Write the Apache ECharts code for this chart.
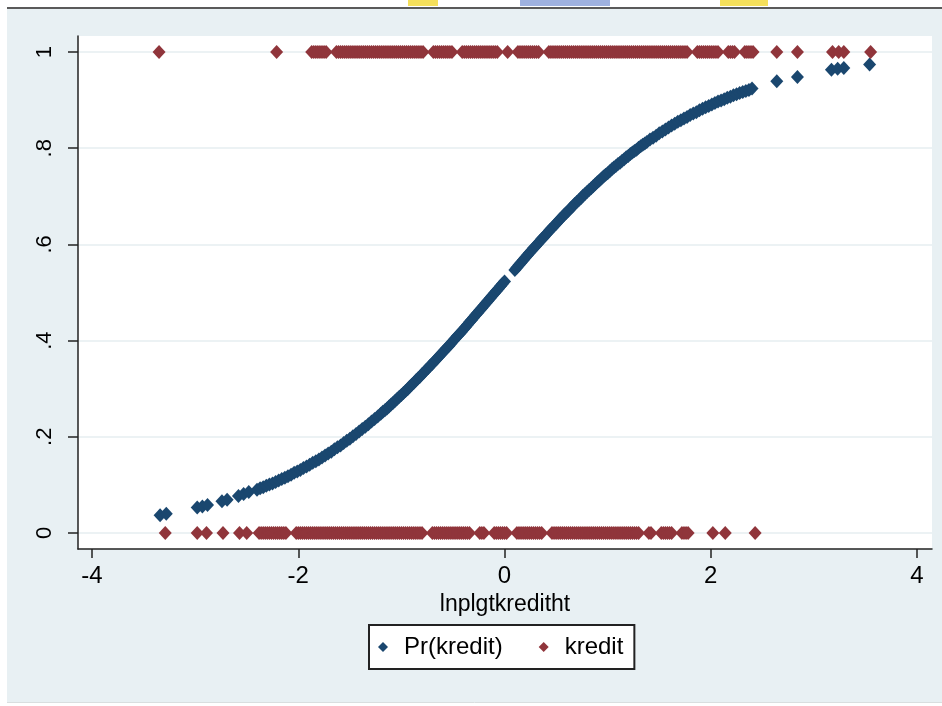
<!DOCTYPE html>
<html><head><meta charset="utf-8">
<script src="https://cdn.jsdelivr.net/npm/echarts@6/dist/echarts.min.js"></script>
<style>html,body{margin:0;padding:0;background:#fff}#c{width:942px;height:706px}</style>
</head><body><div id="c"></div>
<script>
const xTicks = [-4, -2, 0, 2, 4];
const yTicks = [0, 0.2, 0.4, 0.6, 0.8, 1];
const yTickLabels = ['0', '.2', '.4', '.6', '.8', '1'];
const xTitle = 'lnplgtkreditht';
const seriesNames = ['Pr(kredit)', 'kredit'];

// Pr(kredit): x positions and predicted probabilities
const prX = [-3.34, -3.28, -2.98, -2.93, -2.88, -2.74, -2.69, -2.58, -2.53, -2.48,
  -2.40, -2.37, -2.34, -2.31, -2.28, -2.25, -2.22, -2.19, -2.16, -2.13, -2.10, -2.07, -2.04, -2.01,
  -1.98, -1.95, -1.92, -1.89, -1.86, -1.83, -1.80, -1.77, -1.74, -1.71, -1.68, -1.65, -1.62, -1.59,
  -1.56, -1.53, -1.50, -1.47, -1.44, -1.41, -1.38, -1.35, -1.32, -1.29, -1.26, -1.23,
  -1.20, -1.18, -1.16, -1.14, -1.12, -1.10, -1.08, -1.06, -1.04, -1.02, -1.00, -0.98, -0.96, -0.94,
  -0.92, -0.90, -0.88, -0.86, -0.84, -0.82, -0.80, -0.78, -0.76, -0.74, -0.72, -0.70, -0.68, -0.66,
  -0.64, -0.62, -0.60, -0.58, -0.56, -0.54, -0.52, -0.50, -0.48, -0.46, -0.44, -0.42, -0.40, -0.38,
  -0.36, -0.34, -0.32, -0.30, -0.28, -0.26, -0.24, -0.22, -0.20, -0.18, -0.16, -0.14, -0.12, -0.10,
  -0.08, -0.06, -0.04, -0.02, 0.00,
  0.10, 0.12, 0.14, 0.16, 0.18, 0.20, 0.22, 0.24, 0.26, 0.28, 0.30, 0.32, 0.34, 0.36, 0.38, 0.40,
  0.42, 0.44, 0.46, 0.48, 0.50, 0.52, 0.54, 0.56, 0.58, 0.60, 0.62, 0.64, 0.66, 0.68, 0.70, 0.72,
  0.74, 0.76, 0.78, 0.80, 0.82, 0.84, 0.86, 0.88, 0.90, 0.92, 0.94, 0.96, 0.98, 1.00, 1.02, 1.04,
  1.06, 1.08, 1.10, 1.12, 1.14, 1.16, 1.18, 1.20, 1.22, 1.24, 1.26, 1.28, 1.30, 1.32, 1.34, 1.36, 1.38,
  1.41, 1.44, 1.47, 1.50, 1.53, 1.56, 1.59, 1.62, 1.65, 1.68, 1.71, 1.74, 1.77, 1.80, 1.83, 1.86,
  1.89, 1.92, 1.95, 1.98, 2.01, 2.04, 2.07, 2.10, 2.13, 2.16, 2.19, 2.22, 2.25, 2.28, 2.31, 2.34,
  2.37, 2.40,
  2.64, 2.84, 3.17, 3.23, 3.29, 3.54];
const prY = [0.037, 0.040, 0.053, 0.055, 0.058, 0.066, 0.069, 0.077, 0.081, 0.085,
  0.090, 0.093, 0.095, 0.098, 0.101, 0.103, 0.106, 0.109, 0.112, 0.115, 0.118, 0.121, 0.125, 0.128,
  0.131, 0.135, 0.138, 0.142, 0.146, 0.149, 0.153, 0.157, 0.161, 0.165, 0.169, 0.174, 0.178, 0.182,
  0.187, 0.192, 0.196, 0.201, 0.206, 0.211, 0.216, 0.221, 0.226, 0.232, 0.237, 0.242,
  0.248, 0.252, 0.255, 0.259, 0.263, 0.267, 0.271, 0.275, 0.279, 0.283, 0.287, 0.291, 0.295, 0.299,
  0.304, 0.308, 0.312, 0.317, 0.321, 0.325, 0.330, 0.334, 0.339, 0.343, 0.348, 0.352, 0.357, 0.361,
  0.366, 0.371, 0.375, 0.380, 0.385, 0.389, 0.394, 0.399, 0.404, 0.409, 0.413, 0.418, 0.423, 0.428,
  0.433, 0.438, 0.443, 0.448, 0.453, 0.458, 0.463, 0.468, 0.473, 0.478, 0.483, 0.488, 0.493, 0.498,
  0.503, 0.508, 0.513, 0.518, 0.523,
  0.547, 0.552, 0.557, 0.562, 0.567, 0.572, 0.577, 0.582, 0.587, 0.592, 0.596, 0.601, 0.606, 0.611, 0.615, 0.620,
  0.625, 0.630, 0.634, 0.639, 0.643, 0.648, 0.653, 0.657, 0.662, 0.666, 0.670, 0.675, 0.679, 0.684, 0.688, 0.692,
  0.696, 0.701, 0.705, 0.709, 0.713, 0.717, 0.721, 0.725, 0.729, 0.733, 0.737, 0.741, 0.745, 0.748, 0.752, 0.756,
  0.760, 0.763, 0.767, 0.770, 0.774, 0.777, 0.781, 0.784, 0.788, 0.791, 0.794, 0.797, 0.801, 0.804, 0.807, 0.810, 0.813,
  0.818, 0.822, 0.826, 0.831, 0.835, 0.839, 0.843, 0.847, 0.851, 0.855, 0.858, 0.862, 0.865, 0.869, 0.872, 0.875,
  0.879, 0.882, 0.885, 0.888, 0.891, 0.894, 0.897, 0.899, 0.902, 0.905, 0.907, 0.910, 0.912, 0.915, 0.917, 0.919,
  0.921, 0.924,
  0.939, 0.948, 0.963, 0.965, 0.967, 0.974];

// kredit = 1 observations (x positions)
const kredit1X = [-3.35, -2.21,
  -1.87, -1.85, -1.83, -1.81, -1.79, -1.77, -1.75, -1.73,
  -1.63, -1.61, -1.59, -1.57, -1.55, -1.53, -1.51, -1.49, -1.47, -1.45, -1.43, -1.41, -1.39, -1.37,
  -1.35, -1.33, -1.31, -1.29, -1.27, -1.25, -1.23, -1.21, -1.19, -1.17, -1.15, -1.13, -1.11, -1.09,
  -1.07, -1.05, -1.03, -1.01, -0.99, -0.97, -0.95, -0.93, -0.91, -0.89, -0.87, -0.85, -0.83, -0.81, -0.79,
  -0.69, -0.67, -0.65, -0.63, -0.61, -0.59, -0.57, -0.55, -0.53, -0.51,
  -0.41, -0.39, -0.37, -0.35, -0.33, -0.31, -0.29, -0.27, -0.25, -0.23, -0.21, -0.19, -0.17, -0.15,
  -0.13, -0.11, -0.09, -0.07,
  0.03,
  0.13, 0.15, 0.17, 0.19, 0.21, 0.23, 0.25, 0.27, 0.29, 0.31, 0.33,
  0.43, 0.45, 0.47, 0.49, 0.51, 0.53, 0.55, 0.57, 0.59, 0.61, 0.63, 0.65, 0.67, 0.69, 0.71, 0.73,
  0.75, 0.77, 0.79, 0.81, 0.83, 0.85, 0.87, 0.89, 0.91, 0.93, 0.95, 0.97, 0.99, 1.01, 1.03, 1.05,
  1.07, 1.09, 1.11, 1.13, 1.15, 1.17, 1.19, 1.21, 1.23, 1.25, 1.27, 1.29, 1.31, 1.33, 1.35, 1.37,
  1.39, 1.41, 1.43, 1.45, 1.47, 1.49, 1.51, 1.53, 1.55, 1.57, 1.59, 1.61, 1.63, 1.65, 1.67, 1.69,
  1.71, 1.73, 1.75, 1.77,
  1.87, 1.89, 1.91, 1.93, 1.95, 1.97, 1.99, 2.01, 2.03, 2.05, 2.07,
  2.17, 2.19, 2.21, 2.23,
  2.33, 2.35, 2.37, 2.39, 2.41,
  2.64, 2.84, 3.18, 3.24, 3.29, 3.55];
// kredit = 0 observations (x positions)
const kredit0X = [-3.29, -2.98, -2.89, -2.73, -2.57, -2.50,
  -2.38, -2.36, -2.34, -2.32, -2.30, -2.28, -2.26, -2.24, -2.22, -2.20, -2.18, -2.16, -2.14, -2.12,
  -2.02, -2.00, -1.98, -1.96, -1.94, -1.92, -1.90, -1.88, -1.86, -1.84, -1.82, -1.80, -1.78, -1.76,
  -1.74, -1.72, -1.70, -1.68, -1.66, -1.64, -1.62, -1.60, -1.58, -1.56, -1.54, -1.52, -1.50, -1.48,
  -1.46, -1.44, -1.42, -1.40, -1.38, -1.36, -1.34, -1.32, -1.30, -1.28, -1.26, -1.24, -1.22, -1.20,
  -1.18, -1.16, -1.14, -1.12, -1.10, -1.08, -1.06, -1.04, -1.02, -1.00, -0.98, -0.96, -0.94, -0.92,
  -0.90, -0.88, -0.86, -0.84, -0.82, -0.80,
  -0.70, -0.68, -0.66, -0.64, -0.62, -0.60, -0.58, -0.56, -0.54, -0.52, -0.50, -0.48, -0.46, -0.44,
  -0.42, -0.40, -0.38, -0.36, -0.34,
  -0.24, -0.22, -0.20,
  -0.10, -0.08, -0.06, -0.04, -0.02, 0.00, 0.02,
  0.12, 0.14, 0.16, 0.18, 0.20, 0.22, 0.24, 0.26, 0.28, 0.30, 0.32, 0.34, 0.36,
  0.46, 0.48, 0.50, 0.52, 0.54, 0.56, 0.58, 0.60, 0.62, 0.64, 0.66, 0.68, 0.70, 0.72, 0.74, 0.76,
  0.78, 0.80, 0.82, 0.84, 0.86, 0.88, 0.90, 0.92, 0.94, 0.96, 0.98, 1.00, 1.02, 1.04, 1.06, 1.08,
  1.10, 1.12, 1.14, 1.16, 1.18, 1.20, 1.22, 1.24, 1.26, 1.28, 1.30,
  1.40, 1.42,
  1.52, 1.54, 1.56, 1.58, 1.60, 1.62,
  1.72, 1.74, 1.76, 1.78,
  2.02, 2.14, 2.43];

const FONT = "'Liberation Sans', Arial, sans-serif";
const chart = echarts.init(document.getElementById('c'), null, {renderer: 'canvas'});
chart.setOption({
  animation: false,
  backgroundColor: '#ffffff',
  graphic: [
    {type: 'rect', z: -10, shape: {x: 7, y: 9, width: 935, height: 693}, style: {fill: '#e8f0f3'}},
    {type: 'line', z: -9, shape: {x1: 7, y1: 8, x2: 942, y2: 8}, style: {stroke: '#5a5a5a', lineWidth: 2}},
    {type: 'line', z: -9, shape: {x1: 7, y1: 702.5, x2: 942, y2: 702.5}, style: {stroke: '#d9dedf', lineWidth: 1}},
    {type: 'rect', z: -9, shape: {x: 408, y: 0, width: 30, height: 6}, style: {fill: '#f4df5a'}},
    {type: 'rect', z: -9, shape: {x: 520, y: 0, width: 90, height: 6}, style: {fill: '#9fb2e0'}},
    {type: 'rect', z: -9, shape: {x: 720, y: 0, width: 48, height: 6}, style: {fill: '#f4df5a'}}
  ],
  grid: {left: 78, right: 10, top: 36, bottom: 157, show: true, backgroundColor: '#ffffff', borderWidth: 0, containLabel: false},
  legend: {
    data: seriesNames, left: 369, top: 625, orient: 'horizontal',
    icon: 'diamond', itemWidth: 10, itemHeight: 10, itemGap: 36,
    padding: [10, 11, 10, 9],
    backgroundColor: '#ffffff', borderColor: '#222', borderWidth: 2, borderRadius: 0,
    textStyle: {fontFamily: FONT, fontSize: 24, color: '#000', padding: [0, 0, 0, 11]}
  },
  xAxis: {
    type: 'value', min: -4.136, max: 4.145,
    name: xTitle, nameLocation: 'middle', nameGap: 38,
    nameTextStyle: {fontFamily: FONT, fontSize: 23, color: '#000'},
    axisLine: {show: true, onZero: false, lineStyle: {color: '#222', width: 1.5}},
    axisTick: {show: true, inside: false, length: 9, customValues: xTicks, lineStyle: {color: '#222', width: 1.5}},
    axisLabel: {show: true, customValues: xTicks, margin: 15, fontFamily: FONT, fontSize: 24, color: '#000'},
    splitLine: {show: false}, minorTick: {show: false}
  },
  yAxis: {
    type: 'value', min: -0.0333, max: 1.0333,
    axisLine: {show: true, onZero: false, lineStyle: {color: '#222', width: 1.5}},
    axisTick: {show: true, inside: false, length: 10, customValues: yTicks, lineStyle: {color: '#222', width: 1.5}},
    axisLabel: {show: true, customValues: yTicks, rotate: 90, margin: 22, fontFamily: FONT, fontSize: 22, color: '#000',
      formatter: function (v) { const i = yTicks.findIndex(t => Math.abs(t - v) < 1e-6); return i >= 0 ? yTickLabels[i] : ''; }},
    splitLine: {show: true, lineStyle: {color: '#e6eef1', width: 1.5}}
  },
  series: [
    {name: seriesNames[0], type: 'scatter', symbol: 'diamond', symbolSize: [13, 14], itemStyle: {color: '#1a476f', opacity: 1},
      data: prX.map((x, i) => [x, prY[i]])},
    {name: seriesNames[1], type: 'scatter', symbol: 'diamond', symbolSize: [13, 14], itemStyle: {color: '#90353b', opacity: 1},
      data: kredit1X.map(x => [x, 1]).concat(kredit0X.map(x => [x, 0]))}
  ]
});
</script></body></html>
